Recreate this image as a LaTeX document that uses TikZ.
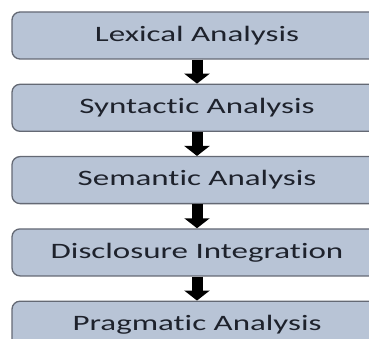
\documentclass[tikz,border=0pt]{standalone}
\usepackage{fontspec}
\setmainfont{Carlito}[Ligatures=NoCommon]
\usetikzlibrary{positioning,arrows.meta}

% the reference letters are set wider than the font itself
\newcommand{\widetext}[1]{\scalebox{1.5}[1]{#1}}

\begin{document}
\begin{tikzpicture}[x=1pt, y=1pt,
    stage/.style={draw=boxline, line width=1.3pt, fill=boxfill, rounded corners=8pt,
        minimum width=370pt, minimum height=47pt, inner sep=0pt,
        text=boxtext, font=\fontsize{22}{26}\selectfont},
    flow/.style={line width=11pt, draw=black, -{Triangle[width=25pt, length=10pt]}}]
\definecolor{boxfill}{RGB}{184,196,214}
\definecolor{boxline}{RGB}{100,105,116}
\definecolor{boxtext}{RGB}{30,34,44}

\useasboundingbox (0, 0) rectangle (369, -339);
\clip (0, 0) rectangle (369, -339);

\node[stage] (lexical) at (197, -35.5) {\widetext{Lexical Analysis}};
\node[stage, below=24pt of lexical] (syntactic) {\widetext{Syntactic Analysis}};
\node[stage, below=24pt of syntactic] (semantic) {\widetext{Semantic Analysis}};
\node[stage, below=24pt of semantic] (disclosure) {\widetext{Disclosure Integration}};
\node[stage, below=24pt of disclosure] (pragmatic) {\widetext{Pragmatic Analysis}};

\draw[flow] (lexical.south) -- (syntactic.north);
\draw[flow] (syntactic.south) -- (semantic.north);
\draw[flow] (semantic.south) -- (disclosure.north);
\draw[flow] (disclosure.south) -- (pragmatic.north);

\end{tikzpicture}
\end{document}
